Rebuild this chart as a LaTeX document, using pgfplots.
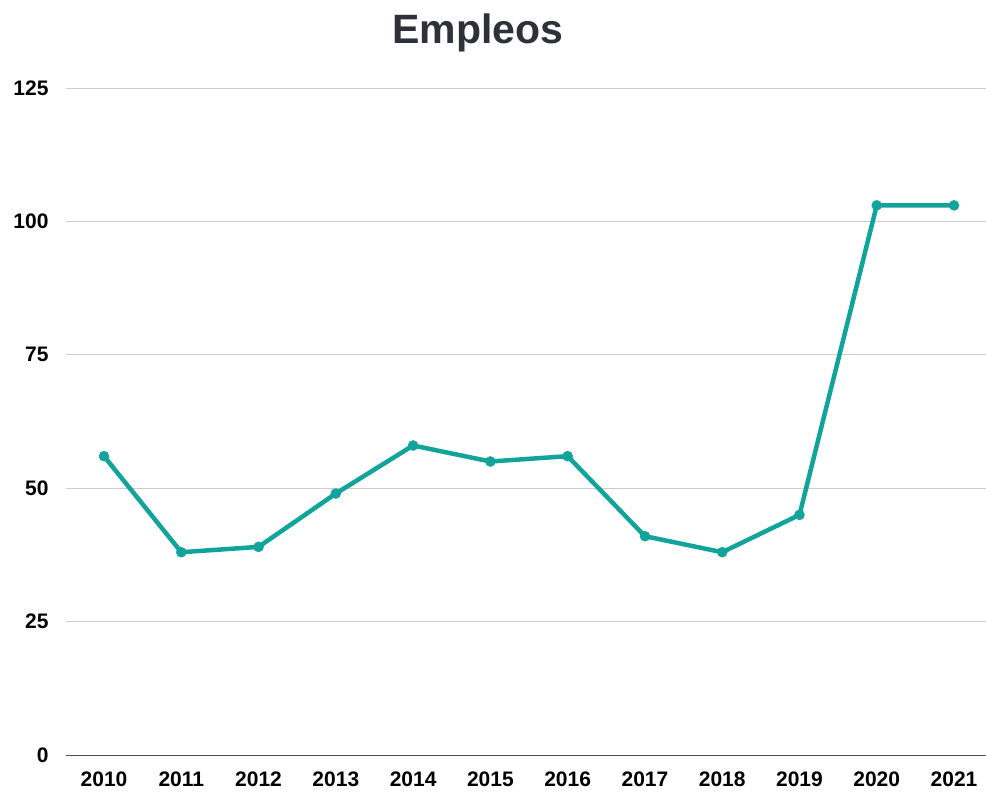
\documentclass[border=0pt]{standalone}
\usepackage{pgfplots}
\pgfplotsset{compat=1.18}
\usepackage{fontspec}
\setmainfont{Liberation Sans}
\definecolor{teal1}{HTML}{12A39A}
\definecolor{titlec}{HTML}{2F3138}
\begin{document}
\begin{tikzpicture}[x=1bp,y=1bp]
\useasboundingbox (0,0) rectangle (986,794);
\node[font=\fontsize{41bp}{44bp}\selectfont\bfseries, text=titlec] at (478,761) {Empleos};
\begin{axis}[
  at={(66bp,39bp)}, anchor=south west,
  width=920bp, height=667bp, scale only axis,
  xmin=-0.492, xmax=11.414, ymin=0, ymax=125,
  xtick={0,...,11},
  xticklabels={2010,2011,2012,2013,2014,2015,2016,2017,2018,2019,2020,2021},
  ytick={0,25,50,75,100,125},
  /pgf/number format/assume math mode=true,
  ticklabel style={font=\fontsize{21bp}{23bp}\selectfont\bfseries, text=black},
  yticklabel style={xshift=-14bp},
  xticklabel style={yshift=-13bp},
  axis x line*=bottom, axis y line*=left,
  x axis line style={draw=black!70, line width=0.8bp, -},
  y axis line style={draw=none},
  major tick length=0pt,
  ymajorgrids, grid style={draw=black!20, line width=0.8bp},
  clip=false,
]
\addplot[color=teal1, line width=4.5bp, mark=*, mark size=5bp, mark options={fill=teal1, draw=teal1, line width=0.5bp}] coordinates {
(0,56) (1,38) (2,39) (3,49) (4,58) (5,55) (6,56) (7,41) (8,38) (9,45) (10,103) (11,103)
};
\end{axis}
\end{tikzpicture}
\end{document}
